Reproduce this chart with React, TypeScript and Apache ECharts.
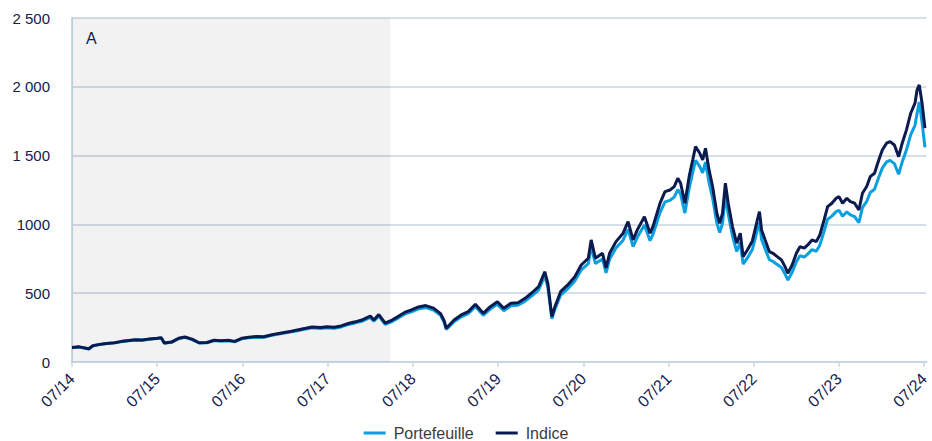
import React, { useEffect, useRef } from "react";
import * as echarts from "echarts";

const dates = [
  "2014-07-01","2014-07-31","2014-09-12","2014-09-29","2014-10-28","2014-11-27","2015-01-01","2015-02-01","2015-03-01","2015-03-29",
  "2015-04-28","2015-05-28","2015-07-01","2015-07-18","2015-08-01","2015-09-01","2015-10-01","2015-10-28","2015-11-28","2015-12-28",
  "2016-02-01","2016-03-01","2016-04-01","2016-05-01","2016-05-28","2016-06-28","2016-07-28","2016-09-01","2016-10-01","2016-11-01",
  "2016-11-29","2016-12-28","2017-01-28","2017-02-28","2017-03-28","2017-04-25","2017-06-01","2017-06-28","2017-07-28","2017-08-28",
  "2017-09-28","2017-10-28","2017-11-25","2018-01-01","2018-01-16","2018-02-07","2018-03-04","2018-03-28","2018-04-28","2018-05-28",
  "2018-06-25","2018-07-25","2018-08-25","2018-09-28","2018-10-28","2018-11-13","2018-11-22","2018-12-25","2019-01-25","2019-02-25",
  "2019-03-25","2019-04-28","2019-05-28","2019-06-28","2019-07-25","2019-08-25","2019-09-25","2019-10-25","2019-11-25","2019-12-22",
  "2020-01-18","2020-02-01","2020-02-18","2020-03-01","2020-03-25","2020-04-25","2020-05-25","2020-06-22","2020-07-22","2020-08-04",
  "2020-08-22","2020-09-22","2020-10-07","2020-10-22","2020-11-19","2020-12-19","2021-01-10","2021-02-01","2021-02-19","2021-03-19",
  "2021-04-13","2021-04-25","2021-05-25","2021-06-16","2021-07-07","2021-07-25","2021-08-10","2021-08-22","2021-09-10","2021-09-28",
  "2021-10-13","2021-10-25","2021-11-13","2021-11-25","2021-12-07","2021-12-22","2022-01-07","2022-01-25","2022-02-07","2022-02-19",
  "2022-03-01","2022-03-13","2022-04-01","2022-04-19","2022-05-04","2022-05-16","2022-06-04","2022-06-25","2022-07-16","2022-07-25",
  "2022-08-04","2022-08-19","2022-09-07","2022-09-22","2022-10-10","2022-10-28","2022-11-13","2022-11-25","2022-12-13","2023-01-01",
  "2023-01-16","2023-02-04","2023-02-19","2023-03-07","2023-03-25","2023-04-10","2023-04-28","2023-05-13","2023-06-01","2023-06-19",
  "2023-07-01","2023-07-16","2023-08-04","2023-08-19","2023-09-07","2023-09-25","2023-10-10","2023-10-28","2023-11-13","2023-12-01",
  "2023-12-19","2024-01-04","2024-01-22","2024-02-07","2024-02-25","2024-03-13","2024-03-28","2024-04-16","2024-05-04","2024-05-22",
  "2024-06-01","2024-06-10","2024-06-22","2024-07-04"
];

const indice = [
  105,110,96,118,128,135,140,150,156,162,
  160,168,172,176,138,145,172,182,166,140,
  142,158,155,158,150,172,180,185,183,196,
  206,215,224,235,245,255,250,256,252,262,
  280,292,305,334,305,345,282,300,330,362,
  378,400,410,392,352,300,245,305,342,366,
  420,354,402,438,390,427,431,463,505,547,
  656,572,330,402,511,560,620,705,754,887,
  754,790,683,790,875,936,1020,887,960,1056,
  936,984,1154,1238,1250,1275,1335,1299,1154,1347,
  1468,1565,1517,1468,1553,1396,1275,1081,1008,1081,
  1299,1154,984,863,936,766,814,880,1032,1093,
  960,887,802,790,766,742,693,645,705,790,
  838,827,851,887,875,923,1032,1129,1154,1190,
  1202,1154,1190,1166,1154,1105,1226,1275,1347,1372,
  1468,1541,1590,1602,1577,1492,1590,1687,1808,1881,
  1978,2014,1880,1700
];

const portefeuille = [
  104,109,95,117,127,134,139,148,154,160,
  158,166,170,174,136,143,169,179,163,138,
  140,155,152,155,147,169,176,181,179,192,
  201,210,219,229,239,248,243,249,245,255,
  272,284,296,324,296,334,273,290,319,350,
  365,386,395,378,339,289,236,293,328,351,
  403,339,385,419,373,408,412,442,482,522,
  626,545,314,383,486,532,589,669,715,841,
  715,749,647,748,828,885,964,838,906,996,
  882,927,1086,1164,1175,1198,1253,1219,1082,1263,
  1376,1466,1420,1374,1453,1305,1191,1009,940,1008,
  1211,1075,916,803,871,712,756,817,958,1014,
  890,822,743,731,709,686,640,595,651,729,
  773,762,784,817,805,849,949,1038,1060,1093,
  1103,1059,1091,1069,1057,1012,1122,1167,1232,1255,
  1343,1409,1454,1465,1442,1364,1454,1542,1653,1720,
  1810,1890,1740,1560
];

const xTickLabels = ["07/14","07/15","07/16","07/17","07/18","07/19","07/20","07/21","07/22","07/23","07/24"];
const yTickValues = [0, 500, 1000, 1500, 2000, 2500];
const yTickLabels = ["0", "500", "1000", "1 500", "2 000", "2 500"];
const shadedPeriod = ["2014-07-01", "2018-03-26"];
const shadedLabel = "A";
const axisEnd = "2024-07-10";

const toMonths = (d: string) => {
  const [y, m, day] = d.split("-").map(Number);
  return (y - 2014) * 12 + (m - 7) + (day - 1) / 30;
};

const FONT = "'Liberation Sans', Arial, sans-serif";
const NAVY = "#14204c";

export default function App() {
  const ref = useRef<HTMLDivElement>(null);
  useEffect(() => {
    if (!ref.current) return;
    const chart = echarts.init(ref.current, null, { renderer: "svg" });
    const tickVals = xTickLabels.map((_, i) => i * 12);
    chart.setOption({
      animation: false,
      textStyle: { fontFamily: FONT },
      grid: { left: 72, right: 1, top: 18, bottom: 79, containLabel: false },
      legend: {
        bottom: -5,
        left: "center",
        itemWidth: 22,
        itemHeight: 3,
        itemGap: 22,
        icon: "rect",
        textStyle: { fontSize: 16, color: "#3c3c3c", fontFamily: FONT, padding: [0, 0, 0, 3] },
        data: ["Portefeuille", "Indice"],
      },
      xAxis: {
        type: "value",
        min: 0,
        max: toMonths(axisEnd),
        interval: 12,
        splitLine: { show: false },
        axisLine: { show: true, lineStyle: { color: "#c9d6e6", width: 2 } },
        axisTick: { show: true, length: 5, lineStyle: { color: "#c9d6e6", width: 1.5 }, customValues: tickVals },
        axisLabel: {
          rotate: 45,
          fontSize: 16,
          color: NAVY,
          margin: 14,
          customValues: tickVals,
          formatter: (v: number) => xTickLabels[Math.round(v / 12)] ?? "",
        },
      },
      yAxis: {
        type: "value",
        min: 0,
        max: 2500,
        interval: 500,
        axisLine: { show: true, lineStyle: { color: "#c9d6e6", width: 2 } },
        axisTick: { show: false },
        splitLine: { lineStyle: { color: "#c8d3e1", width: 1.5 } },
        axisLabel: {
          fontSize: 15,
          color: NAVY,
          margin: 22,
          formatter: (v: number) => {
            const i = yTickValues.indexOf(v);
            return i >= 0 ? yTickLabels[i] : "";
          },
        },
      },
      series: [
        {
          name: "Portefeuille",
          type: "line",
          showSymbol: false,
          data: dates.map((d, i) => [toMonths(d), portefeuille[i]]),
          lineStyle: { color: "#0a9fe0", width: 3 },
          itemStyle: { color: "#0a9fe0" },
          markArea: {
            silent: true,
            itemStyle: { color: "rgba(0,0,0,0.051)" },
            label: {
              show: true,
              position: [14, 12],
              fontSize: 16,
              color: NAVY,
              fontFamily: FONT,
            },
            data: [[
              { name: shadedLabel, xAxis: toMonths(shadedPeriod[0]) },
              { xAxis: toMonths(shadedPeriod[1]) },
            ]],
          },
        },
        {
          name: "Indice",
          type: "line",
          showSymbol: false,
          data: dates.map((d, i) => [toMonths(d), indice[i]]),
          lineStyle: { color: "#0b1a4f", width: 3 },
          itemStyle: { color: "#0b1a4f" },
        },
      ],
    });
    return () => chart.dispose();
  }, []);
  return <div ref={ref} style={{ width: 932, height: 441, position: "absolute", left: 0, top: 0 }} />;
}
